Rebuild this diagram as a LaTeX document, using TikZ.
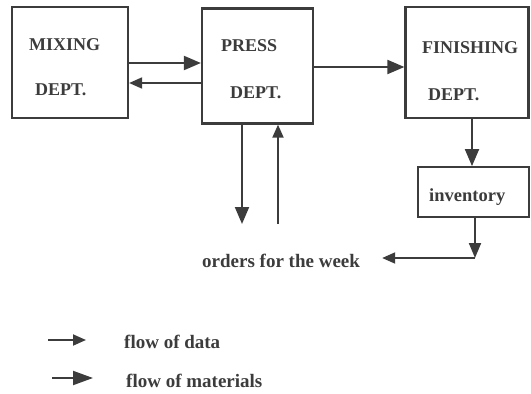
\documentclass[tikz,border=0pt]{standalone}
\usepackage{fontspec}
\setmainfont{Liberation Serif}
\usetikzlibrary{arrows.meta}
\definecolor{ink}{HTML}{3C3C3C}
\tikzset{
  dept/.style={draw=ink, line width=2.2pt, inner sep=0pt},
  lbl/.style={text=ink, font=\bfseries\fontsize{18}{20}\selectfont, inner sep=0pt, anchor=west},
  small/.style={lbl, font=\bfseries\fontsize{19}{21}\selectfont},
  mat/.style={draw=ink, line width=2pt, -{Triangle[length=17pt,width=14pt]}},
  dat/.style={draw=ink, line width=1.8pt, -{Triangle[length=13pt,width=11pt]}}
}
\begin{document}
\begin{tikzpicture}[x=1pt,y=-1pt]
\useasboundingbox (0,0) rectangle (531,394);
% boxes
\node[dept, minimum width=116pt, minimum height=111pt] (mix) at (70,62.5) {};
\node[dept, minimum width=111pt, minimum height=115pt] (press) at (257.5,66) {};
\node[dept, minimum width=123pt, minimum height=111pt] (fin) at (467,62.5) {};
\node[dept, line width=1.8pt, minimum width=111pt, minimum height=50pt] (inv) at (473.5,192) {};
% box texts
\node[lbl] (t1) at (29,45) {MIXING};
\node[lbl] (t2) at (35,90) {DEPT.};
\node[lbl] (t3) at (221,46) {PRESS};
\node[lbl] (t4) at (230,93) {DEPT.};
\node[lbl] (t5) at (422,48) {FINISHING};
\node[lbl] (t6) at (428,95) {DEPT.};
\node[small, font=\bfseries\fontsize{18.5}{20}\selectfont] (t7) at (429,197) {inventory};
\node[small] (orders) at (202,261) {orders for the week};
% connectors
\draw[mat] (mix.east |- 0,63) -- (press.west |- 0,63);
\draw[dat] (press.west |- 0,83) -- (mix.east |- 0,83);
\draw[mat] (press.east |- 0,67) -- (fin.west |- 0,67);
\coordinate (pd) at (242,224);
\coordinate (pu) at (278,224);
\draw[mat] (press.south -| pd) -- (pd);
\draw[dat] (pu) -- (press.south -| pu);
\draw[mat] (fin.south -| 472,0) -- (inv.north -| 472,0);
\coordinate (corner) at (475,258);
\draw[mat, -{Triangle[length=15pt,width=12pt]}] (inv.south -| corner) -- (corner);
\draw[dat] (corner) -- ([xshift=22pt]orders.east |- corner);
% legend
\coordinate (d1) at (48,340);
\coordinate (d2) at (86,340);
\coordinate (m1) at (52,378);
\coordinate (m2) at (93,378);
\draw[dat] (d1) -- (d2);
\draw[mat, -{Triangle[length=20pt,width=14pt]}] (m1) -- (m2);
\node[small] (ld) at (124,342) {flow of data};
\node[small] (lm) at (126,381) {flow of materials};
\end{tikzpicture}
\end{document}
